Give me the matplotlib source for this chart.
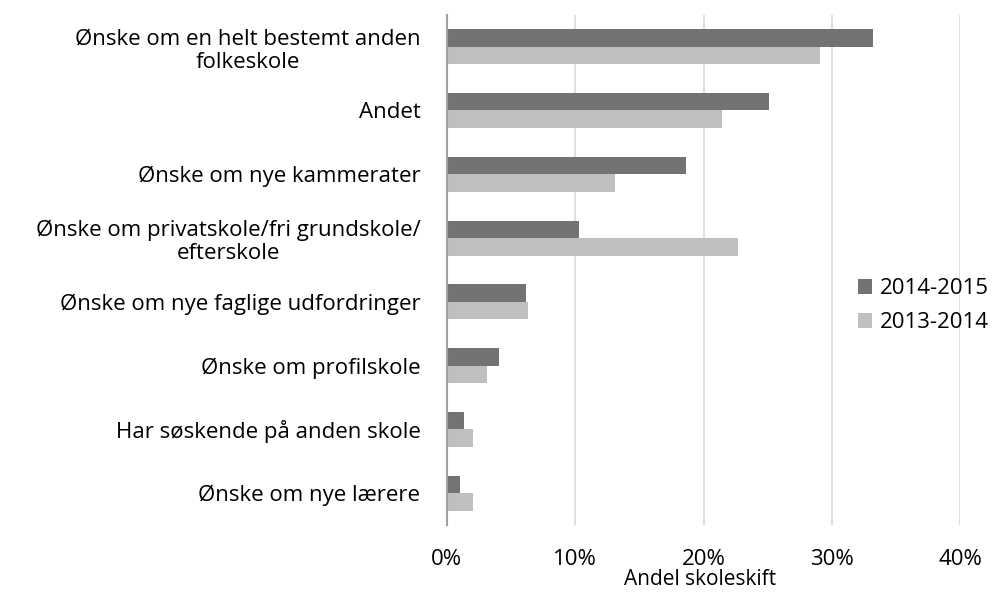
import matplotlib
matplotlib.use('Agg')
import matplotlib.pyplot as plt
import numpy as np

plt.rcParams['font.family'] = ['Open Sans', 'DejaVu Sans']

categories = [
    "Ønske om en helt bestemt anden\nfolkeskole",
    "Andet",
    "Ønske om nye kammerater",
    "Ønske om privatskole/fri grundskole/\nefterskole",
    "Ønske om nye faglige udfordringer",
    "Ønske om profilskole",
    "Har søskende på anden skole",
    "Ønske om nye lærere",
]
share_2014_2015 = [33.2, 25.1, 18.6, 10.3, 6.2, 4.1, 1.35, 1.05]
share_2013_2014 = [29.1, 21.4, 13.1, 22.7, 6.3, 3.1, 2.05, 2.05]
series_labels = ["2014-2015", "2013-2014"]
x_ticks = [0, 10, 20, 30, 40]

dark = '#737373'
light = '#bfbfbf'
fs = 16

fig = plt.figure(figsize=(9.93, 5.92), dpi=100)
ax = fig.add_axes([0.450, 0.113, 0.517, 0.862])

y = np.arange(len(categories))
h = 0.275
ax.barh(y - h / 2, share_2014_2015, height=h, color=dark, label=series_labels[0], zorder=3)
ax.barh(y + h / 2, share_2013_2014, height=h, color=light, label=series_labels[1], zorder=3)

ax.set_ylim(len(categories) - 0.5, -0.5)
ax.set_xlim(0, 40)
ax.set_xticks(x_ticks)
ax.set_xticklabels([f"{t}%" for t in x_ticks], fontsize=fs)
ax.set_yticks(y)
ax.set_yticklabels(categories, fontsize=fs, multialignment='center', linespacing=1.15)
ax.tick_params(axis='y', length=0, pad=19)
ax.tick_params(axis='x', length=0, pad=17)
ax.grid(axis='x', color='#d9d9d9', linewidth=1.2, zorder=0)
for s in ['top', 'right', 'bottom']:
    ax.spines[s].set_visible(False)
ax.spines['left'].set_color('#a0a0a0')
ax.spines['left'].set_linewidth(1.5)
ax.spines['left'].set_zorder(4)

fig.text(0.705, 0.003, "Andel skoleskift", fontsize=15, ha='center', va='bottom')

ax.legend(loc='center left', bbox_to_anchor=(0.80, 0.43), frameon=False, fontsize=fs,
          borderpad=0, borderaxespad=0, handlelength=0.65, handleheight=0.65,
          handletextpad=0.35, labelspacing=0.6)

fig.savefig('out.png', dpi=100)
